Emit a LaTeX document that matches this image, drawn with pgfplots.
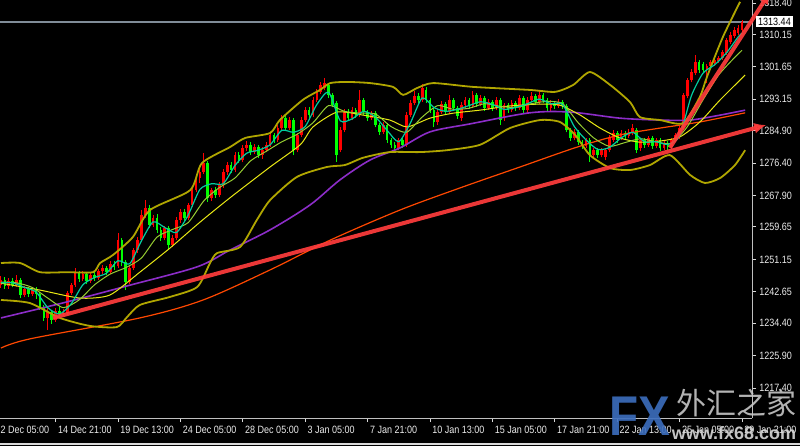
\documentclass[border=0pt]{standalone}
\usepackage{pgfplots}
\pgfplotsset{compat=1.18}
\usepackage{pgfplotstable}
\usetikzlibrary{arrows.meta}
\usepackage{fontspec}
\setmainfont{Liberation Sans}
\newfontfamily\axisfont[FakeStretch=0.85]{Liberation Sans}
\newfontfamily\cjk{Noto Sans CJK SC}
\definecolor{cred}{RGB}{255,0,0}
\definecolor{cgreen}{RGB}{0,255,0}
\definecolor{olivband}{RGB}{176,166,0}
\definecolor{ybright}{RGB}{232,232,20}
\definecolor{tealma}{RGB}{0,205,160}
\definecolor{ygma}{RGB}{150,205,50}
\definecolor{purpma}{RGB}{140,45,200}
\definecolor{orma}{RGB}{255,72,0}
\definecolor{trend}{RGB}{255,60,60}
\definecolor{pline}{RGB}{128,140,152}
\definecolor{fxblue}{RGB}{60,110,190}

\pgfplotstableread{
x o h l c
0 1244.4 1246.8 1243.6 1245.7
1 1245.7 1246.5 1243.5 1244.2
2 1244.2 1246.3 1243.4 1245.5
3 1245.5 1246.2 1243.8 1244.4
4 1244.4 1247.0 1243.9 1245.8
5 1245.8 1246.4 1241.0 1241.8
6 1241.8 1244.2 1241.2 1243.4
7 1243.4 1244.0 1241.3 1242.0
8 1242.0 1243.9 1241.5 1243.1
9 1243.1 1243.8 1240.8 1242.0
10 1242.0 1242.6 1238.0 1238.7
11 1238.7 1239.2 1235.0 1235.8
12 1235.8 1238.4 1232.6 1237.4
13 1237.4 1238.0 1234.3 1235.2
14 1235.2 1238.4 1234.8 1237.6
15 1237.6 1238.6 1236.0 1236.8
16 1236.8 1238.2 1236.2 1237.1
17 1237.1 1242.8 1236.6 1242.3
18 1242.3 1245.0 1241.8 1244.4
19 1244.4 1248.9 1243.9 1247.6
20 1247.6 1248.2 1245.3 1246.0
21 1246.0 1248.0 1245.4 1247.3
22 1247.3 1247.9 1244.8 1245.5
23 1245.5 1247.7 1245.0 1247.0
24 1247.0 1247.8 1245.6 1246.3
25 1246.3 1248.7 1245.8 1248.0
26 1248.0 1249.6 1247.3 1248.9
27 1248.9 1249.5 1247.0 1247.8
28 1247.8 1250.7 1247.3 1250.0
29 1250.0 1250.8 1248.5 1249.2
30 1249.4 1258.1 1248.9 1256.2
31 1256.2 1256.8 1249.5 1250.5
32 1250.5 1251.0 1243.1 1245.2
33 1245.2 1249.5 1244.6 1248.9
34 1248.9 1254.2 1248.4 1253.6
35 1253.6 1256.9 1252.8 1256.2
36 1256.2 1264.1 1255.6 1262.8
37 1262.8 1266.7 1262.0 1264.6
38 1264.6 1265.3 1259.5 1260.2
39 1260.2 1262.7 1259.6 1262.0
40 1262.0 1263.0 1258.2 1258.9
41 1258.9 1259.6 1256.0 1256.8
42 1256.8 1260.0 1256.2 1259.4
43 1259.4 1260.0 1253.6 1255.0
44 1255.0 1257.6 1254.4 1256.8
45 1256.8 1262.2 1256.2 1261.5
46 1261.5 1264.4 1260.8 1263.6
47 1263.6 1264.3 1261.2 1262.0
48 1262.0 1266.0 1261.4 1265.4
49 1265.4 1270.0 1264.8 1269.4
50 1269.4 1273.2 1268.8 1272.5
51 1272.5 1275.0 1271.3 1274.1
52 1274.1 1279.1 1273.6 1276.4
53 1276.4 1277.0 1266.2 1267.3
54 1267.3 1270.0 1266.5 1269.4
55 1269.4 1270.2 1267.3 1268.0
56 1268.0 1271.4 1267.4 1270.7
57 1270.7 1274.8 1270.0 1274.1
58 1274.1 1276.6 1273.4 1275.9
59 1275.9 1276.8 1273.8 1274.6
60 1274.6 1279.3 1274.0 1278.5
61 1278.5 1279.4 1276.5 1277.2
62 1277.2 1281.2 1276.6 1280.4
63 1280.4 1282.3 1279.7 1281.2
64 1281.2 1281.9 1278.6 1279.3
65 1279.3 1281.4 1278.7 1280.6
66 1280.6 1281.2 1277.8 1278.5
67 1278.5 1280.6 1277.5 1279.8
68 1279.8 1281.9 1279.2 1281.2
69 1281.2 1284.5 1280.6 1283.8
70 1283.8 1284.4 1281.8 1282.5
71 1282.5 1286.4 1281.9 1285.6
72 1285.6 1289.0 1285.0 1288.2
73 1288.2 1288.9 1284.9 1285.6
74 1285.6 1288.5 1285.0 1287.7
75 1287.7 1288.3 1278.5 1279.8
76 1279.8 1284.4 1279.2 1283.8
77 1283.8 1288.4 1283.2 1287.7
78 1287.7 1291.1 1287.1 1290.3
79 1290.3 1291.0 1288.3 1289.0
80 1289.0 1293.7 1288.4 1293.0
81 1293.0 1295.8 1292.4 1295.1
82 1295.1 1297.6 1294.5 1296.9
83 1296.1 1298.7 1295.5 1297.4
84 1296.9 1297.4 1293.6 1294.3
85 1294.3 1294.9 1291.0 1291.6
86 1292.2 1292.8 1276.7 1278.5
87 1279.8 1285.8 1279.2 1285.1
88 1285.1 1290.5 1284.5 1289.8
89 1289.8 1290.5 1287.5 1288.2
90 1288.2 1291.0 1287.6 1290.3
91 1290.3 1290.9 1288.3 1289.0
92 1289.0 1295.6 1288.4 1293.0
93 1293.0 1293.6 1289.1 1289.8
94 1289.8 1290.4 1287.5 1288.2
95 1288.2 1290.2 1287.6 1289.6
96 1289.6 1290.2 1285.8 1286.4
97 1286.4 1287.0 1283.9 1284.6
98 1284.6 1287.1 1284.0 1286.4
99 1286.4 1287.0 1281.8 1282.5
100 1282.5 1283.1 1280.5 1281.2
101 1281.2 1281.9 1279.3 1280.4
102 1280.4 1283.1 1279.8 1282.5
103 1282.5 1283.0 1280.4 1281.2
104 1281.2 1289.8 1280.6 1289.0
105 1289.0 1292.9 1288.4 1292.2
106 1292.2 1295.3 1291.6 1294.0
107 1294.0 1294.8 1292.3 1293.0
108 1293.0 1297.2 1292.4 1296.1
109 1295.6 1296.4 1292.3 1293.0
110 1293.0 1293.6 1289.6 1290.3
111 1290.3 1290.9 1285.9 1287.2
112 1287.2 1290.5 1286.5 1289.8
113 1289.8 1292.6 1289.2 1291.9
114 1291.9 1292.5 1289.1 1289.8
115 1289.8 1294.3 1289.2 1293.0
116 1293.0 1293.6 1290.2 1290.9
117 1290.9 1291.5 1288.0 1288.8
118 1288.2 1292.4 1287.4 1291.6
119 1291.6 1293.8 1290.9 1293.0
120 1293.0 1293.6 1290.7 1291.4
121 1291.4 1295.3 1290.8 1294.3
122 1294.3 1294.9 1291.2 1291.9
123 1291.9 1294.3 1291.3 1293.5
124 1293.5 1294.1 1290.2 1290.9
125 1290.9 1293.1 1290.3 1292.4
126 1292.4 1293.0 1290.2 1290.9
127 1290.9 1293.7 1290.3 1293.0
128 1293.0 1293.6 1286.4 1287.7
129 1288.2 1292.3 1287.5 1291.6
130 1291.6 1292.2 1289.6 1290.3
131 1290.3 1292.9 1289.7 1292.2
132 1292.2 1292.8 1290.2 1290.9
133 1290.9 1294.2 1290.3 1293.5
134 1293.5 1294.1 1289.6 1290.3
135 1290.3 1293.7 1289.3 1293.0
136 1293.0 1295.1 1292.4 1294.0
137 1294.0 1294.6 1291.7 1292.4
138 1292.4 1295.3 1291.8 1294.3
139 1294.3 1294.9 1292.3 1293.0
140 1293.0 1293.6 1290.2 1290.9
141 1290.9 1292.9 1289.8 1292.2
142 1292.2 1292.8 1290.7 1291.4
143 1291.4 1293.1 1290.8 1292.4
144 1292.4 1293.0 1290.7 1291.4
145 1291.4 1292.0 1284.5 1285.1
146 1285.1 1285.7 1282.3 1283.0
147 1283.0 1285.3 1282.4 1284.6
148 1284.6 1285.2 1281.2 1281.9
149 1281.9 1282.5 1280.2 1280.9
150 1280.9 1283.1 1280.3 1282.5
151 1282.5 1283.1 1276.7 1278.5
152 1278.5 1280.5 1277.9 1279.8
153 1279.8 1280.4 1277.8 1278.5
154 1278.5 1280.5 1277.9 1279.8
155 1278.0 1280.4 1277.2 1279.8
156 1279.8 1283.7 1279.2 1283.0
157 1282.5 1285.0 1281.9 1284.3
158 1284.3 1284.9 1281.8 1282.5
159 1283.0 1285.0 1282.4 1284.3
160 1284.3 1284.9 1282.8 1283.5
161 1283.5 1285.3 1282.9 1284.6
162 1284.3 1286.7 1283.7 1285.6
163 1285.1 1285.7 1279.1 1279.8
164 1280.4 1283.1 1279.7 1282.5
165 1282.5 1283.1 1280.5 1281.2
166 1281.2 1283.6 1280.6 1283.0
167 1283.0 1283.6 1280.2 1280.9
168 1280.9 1283.1 1280.3 1282.5
169 1282.5 1283.1 1279.7 1280.4
170 1280.4 1282.3 1279.8 1281.7
171 1281.7 1282.3 1279.9 1280.6
172 1280.6 1283.1 1280.0 1282.5
173 1282.5 1284.4 1281.9 1283.8
174 1283.3 1286.3 1282.7 1285.6
175 1285.6 1294.8 1285.0 1294.3
176 1294.0 1298.8 1293.4 1298.2
177 1298.2 1301.0 1297.6 1300.3
178 1300.0 1304.8 1299.4 1302.9
179 1302.9 1303.5 1300.1 1300.8
180 1302.4 1303.0 1300.2 1300.8
181 1300.8 1302.5 1297.4 1301.9
182 1301.9 1303.5 1301.3 1302.9
183 1302.7 1304.1 1302.0 1303.5
184 1303.2 1304.6 1302.6 1304.0
185 1304.0 1306.2 1303.4 1305.6
186 1305.3 1309.3 1304.7 1308.7
187 1308.2 1310.7 1307.6 1310.0
188 1309.8 1312.0 1309.1 1311.3
189 1310.5 1312.6 1309.9 1311.9
190 1311.3 1313.9 1310.8 1313.4
}\candles

\begin{document}
\begin{tikzpicture}
\fill[black] (0,0) rectangle (400pt,223pt);
\clip (0,0) rectangle (400pt,223pt);
\begin{axis}[
  at={(0pt,14pt)}, anchor=south west,
  scale only axis, width=376pt, height=209pt,
  xmin=-0.256, xmax=192.56, ymin=1209.55, ymax=1319.19,
  axis background/.style={fill=black},
  axis x line*=bottom, axis y line*=right,
  axis line style={draw=white!75!black, line width=0.5pt, -},
  xtick={14,30,46,62,78,94,110,126,142,158,174,190},
  xticklabels={14 Dec 21:00,19 Dec 13:00,24 Dec 05:00,28 Dec 05:00,3 Jan 05:00,7 Jan 21:00,10 Jan 13:00,15 Jan 05:00,17 Jan 21:00,22 Jan 13:00,25 Jan 05:00,29 Jan 21:00},
  ytick={1217.40,1225.90,1234.40,1242.65,1251.15,1259.65,1267.90,1276.40,1284.90,1293.15,1301.65,1310.15,1318.40},
  yticklabels={1217.40,1225.90,1234.40,1242.65,1251.15,1259.65,1267.90,1276.40,1284.90,1293.15,1301.65,1310.15,1318.40},
  tick align=outside, major tick length=2pt,
  tick style={white!85!black, line width=0.5pt},
  ticklabel style={font=\axisfont\fontsize{5.3}{6}\selectfont, text=white!92!black},
  xticklabel style={anchor=north west, inner sep=0pt, xshift=1pt, yshift=-2pt},
  yticklabel style={anchor=west, inner sep=0pt, xshift=1.5pt},
  clip=false,
  colormap={updown}{color(0cm)=(cgreen) color(1cm)=(cred)},
  point meta min=0, point meta max=1,
]
% current price line
\addplot[pline, line width=0.6pt] coordinates {(-0.256,1313.44) (192.56,1313.44)};
% candles: wicks and bodies
\addplot[quiver={u=0, v=\thisrow{h}-\thisrow{l}, colored}, point meta={\thisrow{c}>\thisrow{o}}, line width=0.5pt] table[x=x, y=l] {\candles};
\addplot[quiver={u=0, v=\thisrow{c}-\thisrow{o}, colored}, point meta={\thisrow{c}>\thisrow{o}}, line width=1.35pt] table[x=x, y=o] {\candles};
% long moving average (orange)
\addplot[orma, line width=0.6pt, smooth] coordinates {(0,1227.9) (7.4,1230.3) (35.6,1235.8) (51.8,1240.5) (69.0,1248.4) (84.4,1256.2) (102.3,1264.1) (117.7,1269.9) (133.1,1275.4) (147.7,1280.6) (158.7,1283.8) (169.0,1285.6) (179.2,1287.2) (190.8,1289.6)};
% purple moving average
\addplot[purpma, line width=0.8pt, smooth] coordinates {(0,1235.8) (16.9,1240.0) (33.1,1244.4) (50.3,1249.2) (58.7,1253.6) (69.0,1258.9) (79.2,1265.4) (86.9,1272.0) (94.6,1277.2) (102.3,1280.4) (110.0,1284.6) (120.3,1286.7) (135.6,1289.6) (145.9,1289.8) (158.7,1288.2) (169.0,1287.7) (176.7,1287.7) (184.4,1289.0) (190.8,1290.3)};
% Bollinger upper band
\addplot[olivband, line width=0.9pt, smooth, tension=0.4] coordinates {(0,1250.2) (4.9,1250.2) (10.0,1247.8) (16.9,1247.8) (23.6,1247.8) (25.4,1250.2) (28.7,1252.3) (33.8,1257.0) (38.2,1264.1) (48.5,1269.3) (51.5,1276.4) (58.7,1280.6) (62.6,1283.0) (69.0,1284.3) (71.5,1287.7) (77.4,1293.0) (81.8,1295.6) (84.4,1297.4) (88.7,1297.7) (94.6,1297.4) (100.5,1296.4) (103.1,1294.3) (106.7,1296.1) (110.8,1297.4) (121.0,1296.4) (135.6,1295.6) (142.1,1295.1) (146.7,1296.9) (151.0,1300.3) (156.2,1296.9) (161.3,1292.4) (163.8,1288.5) (169.0,1287.7) (174.9,1286.9) (179.2,1293.8) (181.0,1299.0) (185.1,1309.5) (189.5,1318.7)};
% Bollinger lower band
\addplot[olivband, line width=0.9pt, smooth, tension=0.4] coordinates {(0,1240.5) (7.4,1239.7) (15.1,1235.8) (22.8,1233.7) (29.7,1233.4) (32.3,1236.0) (35.6,1239.2) (43.3,1241.3) (50.3,1243.9) (53.6,1250.2) (55.4,1252.8) (61.3,1254.4) (65.6,1261.5) (69.0,1266.7) (75.9,1272.8) (83.6,1275.4) (88.2,1275.9) (92.8,1277.8) (99.7,1279.3) (107.4,1279.3) (114.4,1279.8) (122.8,1281.2) (130.5,1285.6) (138.2,1287.7) (143.3,1287.2) (147.2,1283.8) (151.0,1278.5) (156.2,1275.1) (161.3,1274.6) (166.4,1275.9) (171.5,1278.5) (176.7,1273.3) (180.5,1271.2) (184.4,1272.5) (188.2,1275.9) (190.8,1279.8)};
% Bollinger middle line
\addplot[ybright, line width=0.5pt, smooth, tension=0.4] coordinates {(0,1244.9) (10.0,1243.1) (20.3,1241.0) (27.9,1241.8) (35.6,1247.8) (43.3,1254.1) (51.0,1260.9) (58.7,1267.3) (69.0,1275.4) (76.7,1281.2) (80.0,1285.9) (86.2,1289.8) (92.8,1289.0) (99.7,1287.7) (104.1,1285.9) (110.0,1288.2) (115.9,1289.5) (122.8,1290.3) (130.5,1291.4) (138.2,1291.9) (143.3,1291.6) (148.5,1289.0) (153.6,1285.6) (158.7,1283.0) (163.8,1281.9) (169.0,1282.2) (174.1,1283.3) (179.2,1287.2) (184.4,1293.0) (190.8,1299.5)};
% medium moving average (yellow-green)
\addplot[ygma, line width=0.5pt, smooth, tension=0.4] coordinates {(0,1245.2) (4,1245.0) (8,1243.8) (12,1241.0) (16,1238.5) (20,1240.5) (24,1244.5) (28,1247.3) (32,1249.0) (36,1251.5) (40,1257.0) (44,1259.0) (48,1260.8) (52,1266.5) (56,1270.0) (60,1272.5) (64,1277.0) (68,1279.5) (72,1282.0) (76,1284.0) (80,1287.0) (84,1291.5) (88,1290.0) (92,1289.5) (96,1289.3) (100,1286.0) (104,1284.5) (108,1288.5) (112,1291.5) (116,1290.5) (120,1290.8) (124,1292.0) (128,1291.3) (132,1291.0) (136,1292.0) (140,1292.6) (144,1292.0) (148,1287.0) (152,1283.0) (156,1280.8) (160,1281.8) (164,1282.8) (168,1282.0) (172,1281.6) (176,1286.0) (180,1293.0) (184,1299.5) (188,1304.0) (190,1306.0)};
% fast moving average (teal)
\addplot[tealma, line width=0.6pt, smooth, tension=0.4] coordinates {(0,1245.0) (3,1245.0) (6,1243.8) (9,1242.6) (12,1238.5) (15,1236.8) (18,1239.5) (21,1244.5) (24,1246.4) (27,1247.5) (30,1250.8) (33,1250.0) (36,1256.0) (39,1261.0) (42,1259.5) (45,1258.2) (48,1262.8) (51,1269.5) (54,1271.0) (57,1271.0) (60,1275.8) (63,1279.0) (66,1279.8) (69,1281.2) (72,1285.0) (75,1284.5) (78,1286.0) (81,1291.8) (84,1295.0) (87,1287.5) (90,1288.0) (93,1290.0) (96,1288.5) (99,1285.0) (102,1282.0) (105,1287.0) (108,1293.5) (111,1291.0) (114,1290.0) (117,1290.5) (120,1291.5) (123,1292.5) (126,1291.8) (129,1290.5) (132,1291.0) (135,1292.0) (138,1293.2) (141,1292.0) (144,1291.8) (147,1286.0) (150,1282.5) (153,1280.0) (156,1280.5) (159,1283.0) (162,1284.5) (165,1282.0) (168,1282.0) (171,1281.3) (174,1283.5) (177,1294.0) (180,1300.0) (183,1302.2) (186,1305.3) (189,1309.5) (190,1310.5)};
% trend lines
\addplot[trend, opacity=0.92, line width=2pt, -{Latex[length=6pt,width=5.5pt]}] coordinates {(13.33,1235.8) (196.2,1286.4)};
\addplot[trend, opacity=0.92, line width=2pt, -{Latex[length=6pt,width=5.5pt]}] coordinates {(171.5,1280.4) (197.2,1321.3)};
% price box and first (cut) date label
\node[anchor=west, fill=white, text=black, inner sep=0.9pt, xshift=2pt, font=\axisfont\fontsize{5.3}{6}\selectfont] at (axis cs:192.56,1313.44) {1313.44};
\node[anchor=north west, inner sep=0pt, xshift=1pt, yshift=-4pt, text=white!92!black, font=\axisfont\fontsize{5.3}{6}\selectfont] at (axis cs:-2,1209.55) {12 Dec 05:00};
\end{axis}
% watermark
\node[font=\fontsize{28}{28}\selectfont\bfseries, text=fxblue, opacity=0.9, xscale=0.85] at (320pt,15pt) {FX};
\node[font=\cjk\fontsize{15}{15}\selectfont, text=white!78!black, opacity=0.9] at (368pt,21.5pt) {外汇之家};
\node[font=\fontsize{9}{9}\selectfont\bfseries, text=white!85!black, opacity=0.9] at (367pt,6.5pt) {www.fx68.com};
\draw[white!85!black, line width=0.6pt] (0,1pt) -- (400pt,1pt);
\end{tikzpicture}
\end{document}
